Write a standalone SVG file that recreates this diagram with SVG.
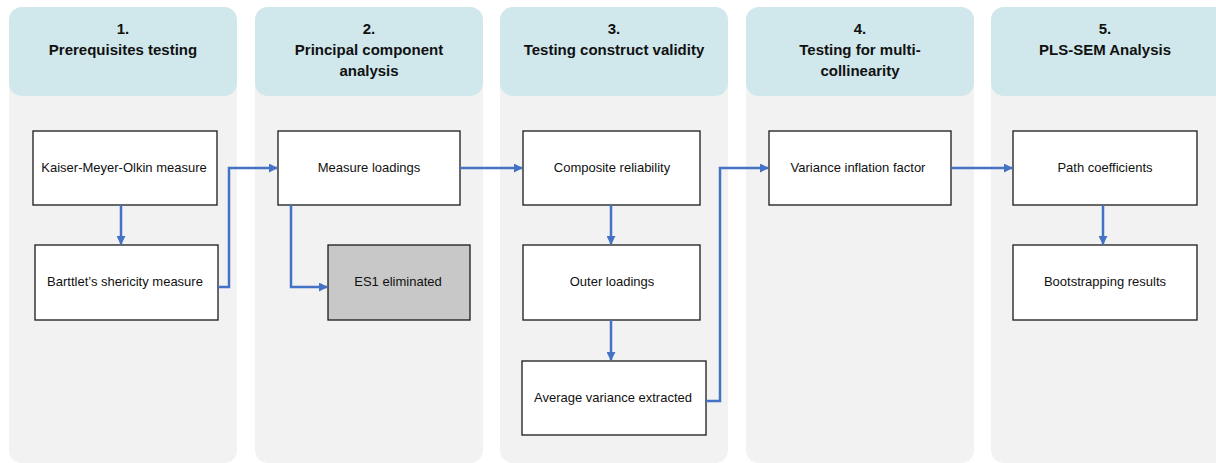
<svg xmlns="http://www.w3.org/2000/svg" width="1216" height="463" viewBox="0 0 1216 463">
  <style>
    .lane { fill: #f2f2f2; }
    .head { fill: #d0e8ec; }
    .title { font-family: "Liberation Sans", Arial, sans-serif; font-size: 15px; font-weight: bold; fill: #111; text-anchor: middle; }
    .box { fill: #ffffff; stroke: #1a1a1a; stroke-width: 1.3; }
    .box.gray { fill: #c8c8c8; }
    .label { font-family: "Liberation Sans", Arial, sans-serif; font-size: 13px; fill: #111; text-anchor: middle; }
    .conn { fill: none; stroke: #4472c4; stroke-width: 2.5; marker-end: url(#arrow); }
  </style>
  <defs>
    <marker id="arrow" viewBox="0 0 10 10" refX="9" refY="5" markerWidth="3.6" markerHeight="3.6" orient="auto" markerUnits="strokeWidth">
      <path d="M0,0 L10,5 L0,10 z" fill="#4472c4"/>
    </marker>
  </defs>

  <rect width="1216" height="463" fill="#ffffff"/>

  <!-- Stage lanes -->
  <g id="stage1">
    <rect class="lane" x="9" y="7" width="228" height="456" rx="13"/>
    <rect class="head" x="9" y="7" width="228" height="89" rx="13"/>
    <text class="title" x="123" y="34">1.</text>
    <text class="title" x="123" y="55">Prerequisites testing</text>
  </g>
  <g id="stage2">
    <rect class="lane" x="255" y="7" width="228" height="456" rx="13"/>
    <rect class="head" x="255" y="7" width="228" height="89" rx="13"/>
    <text class="title" x="369" y="34">2.</text>
    <text class="title" x="369" y="55">Principal component</text>
    <text class="title" x="369" y="76">analysis</text>
  </g>
  <g id="stage3">
    <rect class="lane" x="500" y="7" width="228" height="456" rx="13"/>
    <rect class="head" x="500" y="7" width="228" height="89" rx="13"/>
    <text class="title" x="614" y="34">3.</text>
    <text class="title" x="614" y="55">Testing construct validity</text>
  </g>
  <g id="stage4">
    <rect class="lane" x="746" y="7" width="228" height="456" rx="13"/>
    <rect class="head" x="746" y="7" width="228" height="89" rx="13"/>
    <text class="title" x="860" y="34">4.</text>
    <text class="title" x="860" y="55">Testing for multi-</text>
    <text class="title" x="860" y="76">collinearity</text>
  </g>
  <g id="stage5">
    <rect class="lane" x="991" y="7" width="240" height="456" rx="13"/>
    <rect class="head" x="991" y="7" width="240" height="89" rx="13"/>
    <text class="title" x="1105" y="34">5.</text>
    <text class="title" x="1105" y="55">PLS-SEM Analysis</text>
  </g>

  <!-- Steps -->
  <g id="kmo">
    <rect class="box" x="33" y="131" width="184" height="74"/>
    <text class="label" x="124" y="172">Kaiser-Meyer-Olkin measure</text>
  </g>
  <g id="bartlett">
    <rect class="box" x="35" y="245" width="183" height="75"/>
    <text class="label" x="125" y="286">Barttlet’s shericity measure</text>
  </g>
  <g id="loadings">
    <rect class="box" x="278" y="131" width="182" height="74"/>
    <text class="label" x="369" y="172">Measure loadings</text>
  </g>
  <g id="es1">
    <rect class="box gray" x="328" y="245" width="142" height="75"/>
    <text class="label" x="398" y="286">ES1 eliminated</text>
  </g>
  <g id="composite">
    <rect class="box" x="523" y="131" width="177" height="74"/>
    <text class="label" x="612" y="172">Composite reliability</text>
  </g>
  <g id="outer">
    <rect class="box" x="523" y="245" width="177" height="75"/>
    <text class="label" x="612" y="286">Outer loadings</text>
  </g>
  <g id="ave">
    <rect class="box" x="522" y="361" width="184" height="74"/>
    <text class="label" x="613" y="402">Average variance extracted</text>
  </g>
  <g id="vif">
    <rect class="box" x="769" y="131" width="182" height="74"/>
    <text class="label" x="858" y="172">Variance inflation factor</text>
  </g>
  <g id="path">
    <rect class="box" x="1013" y="131" width="184" height="74"/>
    <text class="label" x="1105" y="172">Path coefficients</text>
  </g>
  <g id="bootstrap">
    <rect class="box" x="1013" y="245" width="184" height="75"/>
    <text class="label" x="1105" y="286">Bootstrapping results</text>
  </g>

  <!-- Connectors -->
  <g id="connectors">
    <path class="conn" d="M121,205 V244"/>
    <path class="conn" d="M218,287 H229 V168 H277"/>
    <path class="conn" d="M291,205 V287 H327"/>
    <path class="conn" d="M460,168 H522"/>
    <path class="conn" d="M611,205 V244"/>
    <path class="conn" d="M611,320 V360"/>
    <path class="conn" d="M706,401 H720 V168 H768"/>
    <path class="conn" d="M951,168 H1012"/>
    <path class="conn" d="M1103,205 V244"/>
  </g>
</svg>
